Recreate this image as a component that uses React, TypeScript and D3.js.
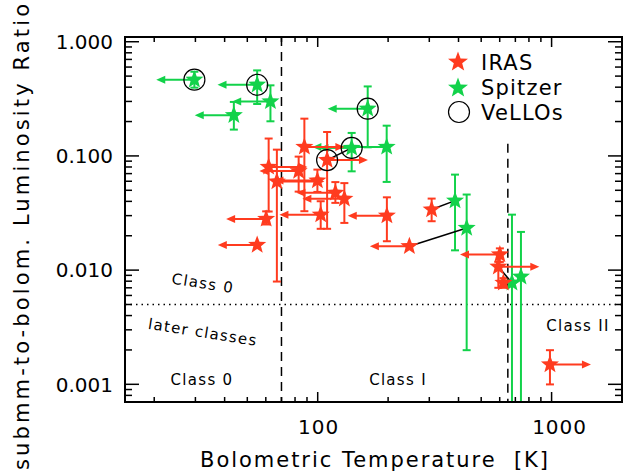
import { useEffect, useRef } from "react";
import * as d3 from "d3";

const W = 638;
const H = 472;

// IRAS sources: Tbol [K], ratio, error bar top/bottom, arrow tip (Tbol limit)
const irasTbol = [87.7, 109.7, 61.7, 82.9, 66.9, 99.7, 119, 130, 103, 60.2, 55.1, 197.6, 307, 246.6, 601, 592, 622, 984];
const irasRatio = [0.12, 0.0919, 0.0801, 0.0736, 0.0596, 0.0608, 0.0475, 0.0421, 0.0306, 0.0281, 0.0166, 0.03, 0.0339, 0.0162, 0.0137, 0.0107, 0.00774, 0.00149];
const irasHi = [0.212, 0.162, 0.142, 0.0986, 0.1135, 0.0759, 0.059, 0.0578, 0.0401, 0.0327, null, 0.0434, 0.0423, null, 0.0155, 0.0118, 0.0085, 0.00199];
const irasLo = [0.0328, 0.023, 0.0326, 0.0487, 0.00794, 0.0484, 0.0388, 0.0259, 0.023, 0.0251, null, 0.0179, 0.0268, null, 0.0118, 0.007, 0.007, 0.000998];
const irasLimit = [130, 164, 90.4, 56.3, 106.8, 65.3, 81.1, 86.0, 68.6, 40.6, 37.4, 134.4, null, 167.1, 406, 886, null, 1473];

// Spitzer sources
const spitzerTbol = [29.7, 55.1, 62.8, 43.8, 163.6, 139.7, 197.2, 386.5, 433.4, 677, 739.6];
const spitzerRatio = [0.465, 0.42, 0.3, 0.227, 0.259, 0.1175, 0.12, 0.0406, 0.0234, 0.00774, 0.00874];
const spitzerHi = [0.546, 0.561, 0.415, 0.297, 0.406, 0.159, 0.184, 0.0686, 0.0459, 0.0306, 0.0216];
const spitzerLo = [0.396, 0.285, 0.201, 0.17, 0.119, 0.0733, 0.0592, 0.0149, 0.00199, 0.0001, 0.0001];
const spitzerLimit = [20.4, 37.3, 43.1, 29.8, 110.3, 101.7, 94.9, null, null, null, null];

// VeLLOs (circled)
const velloIras = [1];
const velloSpitzer = [0, 1, 4, 5];

// same source seen by both: [iras index, spitzer index]
const links = [[1, 5], [12, 7], [13, 8], [15, 9]];

const yTicks = [0.001, 0.01, 0.1, 1];
const yTickLabels = ["0.001", "0.010", "0.100", "1.000"];
const xTicks = [100, 1000];

const RED = "#ff3b1f";
const GREEN = "#12d24a";
const FONT = "DejaVu Sans, sans-serif";

function starPath(cx: number, cy: number, ro: number, ri: number) {
  const pts: string[] = [];
  for (let i = 0; i < 10; i++) {
    const r = i % 2 === 0 ? ro : ri;
    const a = -Math.PI / 2 + (i * Math.PI) / 5;
    pts.push(`${(cx + r * Math.cos(a)).toFixed(2)},${(cy + r * Math.sin(a)).toFixed(2)}`);
  }
  return "M" + pts.join("L") + "Z";
}

export default function App() {
  const ref = useRef<SVGSVGElement>(null);

  useEffect(() => {
    if (!ref.current) return;
    const svg = d3.select(ref.current);
    svg.selectAll("*").remove();

    const margin = { top: 37, right: 16, bottom: 70, left: 125 };
    const iw = W - margin.left - margin.right;
    const ih = H - margin.top - margin.bottom;

    const x = d3.scaleLog().domain([15, 2000]).range([0, iw]);
    const y = d3.scaleLog().domain([0.0007, 1.1]).range([ih, 0]);

    const g = svg.append("g").attr("transform", `translate(${margin.left},${margin.top})`);

    g.append("defs")
      .append("clipPath")
      .attr("id", "plotclip")
      .append("rect")
      .attr("width", iw)
      .attr("height", ih);

    // class boundaries
    g.append("line")
      .attr("x1", x(70)).attr("x2", x(70))
      .attr("y1", 0).attr("y2", ih)
      .attr("stroke", "#000").attr("stroke-width", 1.5).attr("stroke-dasharray", "9,6");
    g.append("line")
      .attr("x1", x(650)).attr("x2", x(650))
      .attr("y1", y(0.128)).attr("y2", ih)
      .attr("stroke", "#000").attr("stroke-width", 1.5).attr("stroke-dasharray", "9,6");
    g.append("line")
      .attr("x1", 0).attr("x2", iw)
      .attr("y1", y(0.005)).attr("y2", y(0.005))
      .attr("stroke", "#000").attr("stroke-width", 1.5).attr("stroke-dasharray", "1.5,4");

    const plot = g.append("g").attr("clip-path", "url(#plotclip)");

    const drawSeries = (
      T: number[], R: number[], hi: (number | null)[], lo: (number | null)[],
      lim: (number | null)[], color: string
    ) => {
      const s = plot.append("g");
      T.forEach((t, i) => {
        const px = x(t);
        const py = y(R[i]);
        if (hi[i] != null && lo[i] != null) {
          const y1 = y(hi[i] as number);
          const y2 = y(lo[i] as number);
          s.append("line").attr("x1", px).attr("x2", px).attr("y1", y1).attr("y2", y2)
            .attr("stroke", color).attr("stroke-width", 2);
          [y1, y2].forEach((yy) =>
            s.append("line").attr("x1", px - 4).attr("x2", px + 4).attr("y1", yy).attr("y2", yy)
              .attr("stroke", color).attr("stroke-width", 2)
          );
        }
        if (lim[i] != null) {
          const tx = x(lim[i] as number);
          const dir = tx < px ? -1 : 1;
          s.append("line").attr("x1", px).attr("x2", tx - dir * 6).attr("y1", py).attr("y2", py)
            .attr("stroke", color).attr("stroke-width", 2);
          s.append("path")
            .attr("d", `M${tx},${py}L${tx - dir * 9},${py - 4}L${tx - dir * 9},${py + 4}Z`)
            .attr("fill", color);
        }
      });
      return s;
    };

    drawSeries(spitzerTbol, spitzerRatio, spitzerHi, spitzerLo, spitzerLimit, GREEN);
    drawSeries(irasTbol, irasRatio, irasHi, irasLo, irasLimit, RED);

    // connecting lines
    plot.selectAll("line.link")
      .data(links)
      .join("line")
      .attr("class", "link")
      .attr("x1", (d) => x(irasTbol[d[0]]))
      .attr("y1", (d) => y(irasRatio[d[0]]))
      .attr("x2", (d) => x(spitzerTbol[d[1]]))
      .attr("y2", (d) => y(spitzerRatio[d[1]]))
      .attr("stroke", "#000")
      .attr("stroke-width", 1.5);

    // stars
    plot.selectAll("path.sp")
      .data(spitzerTbol)
      .join("path")
      .attr("class", "sp")
      .attr("d", (d, i) => starPath(x(d), y(spitzerRatio[i]), 9.5, 4))
      .attr("fill", GREEN);
    plot.selectAll("path.ir")
      .data(irasTbol)
      .join("path")
      .attr("class", "ir")
      .attr("d", (d, i) => starPath(x(d), y(irasRatio[i]), 9.5, 4))
      .attr("fill", RED);

    // VeLLO circles
    const circ = velloSpitzer.map((i) => [spitzerTbol[i], spitzerRatio[i]])
      .concat(velloIras.map((i) => [irasTbol[i], irasRatio[i]]));
    plot.selectAll("circle.vello")
      .data(circ)
      .join("circle")
      .attr("class", "vello")
      .attr("cx", (d) => x(d[0]))
      .attr("cy", (d) => y(d[1]))
      .attr("r", 10.5)
      .attr("fill", "none")
      .attr("stroke", "#000")
      .attr("stroke-width", 1.2);

    // frame + ticks on all sides
    g.append("rect").attr("width", iw).attr("height", ih)
      .attr("fill", "none").attr("stroke", "#000").attr("stroke-width", 2);

    const xMinor: number[] = [];
    for (let e = 1; e <= 3; e++) for (let m = 1; m < 10; m++) {
      const v = m * 10 ** e;
      if (v > 15 && v < 2000) xMinor.push(v);
    }
    const yMinor: number[] = [];
    for (let e = -4; e <= 0; e++) for (let m = 1; m < 10; m++) {
      const v = m * 10 ** e;
      if (v > 0.0007 && v < 1.1) yMinor.push(v);
    }
    xMinor.forEach((v) => {
      const len = xTicks.includes(v) ? 10 : 5;
      g.append("line").attr("x1", x(v)).attr("x2", x(v)).attr("y1", ih).attr("y2", ih - len)
        .attr("stroke", "#000").attr("stroke-width", 1.5);
      g.append("line").attr("x1", x(v)).attr("x2", x(v)).attr("y1", 0).attr("y2", len)
        .attr("stroke", "#000").attr("stroke-width", 1.5);
    });
    yMinor.forEach((v) => {
      const len = yTicks.includes(v) ? 14 : 7;
      g.append("line").attr("x1", 0).attr("x2", len).attr("y1", y(v)).attr("y2", y(v))
        .attr("stroke", "#000").attr("stroke-width", 1.5);
      g.append("line").attr("x1", iw).attr("x2", iw - len).attr("y1", y(v)).attr("y2", y(v))
        .attr("stroke", "#000").attr("stroke-width", 1.5);
    });

    // tick labels
    g.selectAll("text.yl")
      .data(yTicks)
      .join("text")
      .attr("class", "yl")
      .attr("x", -12)
      .attr("y", (d) => y(d))
      .attr("dy", "0.36em")
      .attr("text-anchor", "end")
      .style("font-family", FONT)
      .style("font-size", "20px")
      .text((d, i) => yTickLabels[i]);
    g.selectAll("text.xl")
      .data(xTicks)
      .join("text")
      .attr("class", "xl")
      .attr("x", (d) => x(d))
      .attr("dx", (d) => (d === 1000 ? 8 : 1))
      .attr("y", ih + 32)
      .attr("text-anchor", "middle")
      .style("font-family", FONT)
      .style("font-size", "20px")
      .style("letter-spacing", "1px")
      .text((d) => String(d));

    // axis titles
    svg.append("text")
      .attr("x", 200)
      .attr("y", 467)
      .attr("textLength", 348)
      .attr("lengthAdjust", "spacing")
      .style("white-space", "pre")
      .style("font-family", FONT)
      .style("font-size", "21px")
      .text("Bolometric Temperature  [K]");
    svg.append("text")
      .attr("transform", `translate(29,${470}) rotate(-90)`)
      .attr("textLength", 466)
      .attr("lengthAdjust", "spacing")
      .style("font-family", FONT)
      .style("font-size", "21px")
      .text("submm-to-bolom. Luminosity Ratio");

    // region annotations
    const note = (tx: number, ty: number, s: string, rot = 0) =>
      svg.append("text")
        .attr("transform", `translate(${tx},${ty}) rotate(${rot})`)
        .attr("text-anchor", "middle")
        .attr("dy", "0.36em")
        .style("font-family", FONT)
        .style("font-size", "15px")
        .style("letter-spacing", "1.3px")
        .text(s);
    note(203, 283, "Class 0", 9);
    note(203, 332, "later classes", 9);
    note(202, 380, "Class 0");
    note(398, 380, "Class I");
    note(578, 326, "Class II");

    // legend
    const leg = svg.append("g");
    leg.append("path").attr("d", starPath(458, 62, 10.5, 4.4)).attr("fill", RED);
    leg.append("path").attr("d", starPath(458, 88, 10.5, 4.4)).attr("fill", GREEN);
    leg.append("circle").attr("cx", 459).attr("cy", 112).attr("r", 10.5)
      .attr("fill", "none").attr("stroke", "#000").attr("stroke-width", 1.2);
    ["IRAS", "Spitzer", "VeLLOs"].forEach((s, i) =>
      leg.append("text")
        .attr("x", 481)
        .attr("y", 62 + i * 25)
        .attr("dy", "0.36em")
        .style("font-family", FONT)
        .style("font-size", "21px")
        .style("letter-spacing", "1.2px")
        .text(s)
    );
  }, []);

  return (
    <svg
      ref={ref}
      width={W}
      height={H}
      style={{ position: "absolute", left: 0, top: 0, background: "#fff" }}
    />
  );
}
